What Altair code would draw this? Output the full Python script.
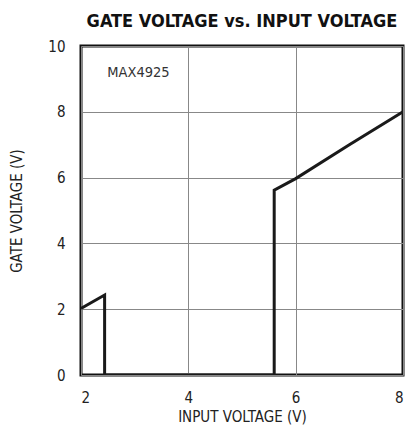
import altair as alt
import pandas as pd

input_v = [2.0, 2.44, 2.44, 5.6, 5.6, 6.0, 7.0, 8.0]
gate_v = [2.02, 2.43, 0.0, 0.0, 5.62, 5.97, 7.0, 8.0]
x_ticks = [2, 4, 6, 8]
y_ticks = [0, 2, 4, 6, 8, 10]

df = pd.DataFrame({"x": input_v, "y": gate_v, "o": list(range(len(input_v)))})
lab = pd.DataFrame({"x": [3.07], "y": [9.18], "t": ["MAX4925"]})

FONT = "'DejaVu Sans Condensed', Roboto, sans-serif"

xs = alt.Scale(domain=[2, 8], nice=False, zero=False)
ys = alt.Scale(domain=[0, 10], nice=False)

line = alt.Chart(df).mark_line(color="#1a1a1a", strokeWidth=3, clip=True).encode(
    x=alt.X("x:Q", scale=xs, axis=alt.Axis(values=x_ticks, format="d", title="INPUT VOLTAGE (V)")),
    y=alt.Y("y:Q", scale=ys, axis=alt.Axis(values=y_ticks, format="d", title="GATE VOLTAGE (V)")),
    order="o:Q",
)

text = alt.Chart(lab).mark_text(font=FONT, fontSize=14.5, color="#333333").encode(
    x=alt.X("x:Q", scale=xs), y=alt.Y("y:Q", scale=ys), text="t:N"
)

chart = (line + text).properties(
    width=322,
    height=329,
    autosize=alt.AutoSizeParams(type="none"),
    padding={"left": 73, "top": 38, "right": 2, "bottom": 51},
    title=alt.TitleParams(
        "GATE VOLTAGE vs. INPUT VOLTAGE",
        font=FONT, fontSize=18, fontWeight="bold", color="#111111", offset=8,
    ),
).configure_view(stroke="#111111", strokeWidth=3).configure_axis(
    domain=False,
    ticks=False,
    grid=True,
    gridColor="#888888",
    gridWidth=1,
    gridOpacity=1,
    labelFont=FONT,
    labelFontSize=15,
    labelColor="#222222",
    titleFont=FONT,
    titleFontSize=15,
    titleFontWeight="normal",
    titleColor="#222222",
).configure_axisY(labelPadding=16, titlePadding=23).configure_axisX(labelPadding=15, titlePadding=4)

chart.save("out.html", embed_options={"renderer": "svg", "actions": False})
